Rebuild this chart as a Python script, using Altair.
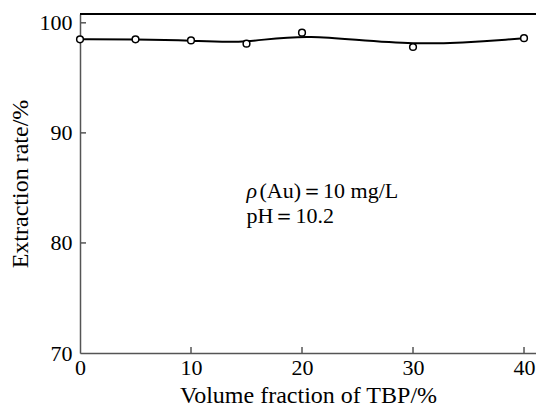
import altair as alt
import pandas as pd

tbp = [0, 5, 10, 15, 20, 30, 40]
rate = [98.5, 98.5, 98.4, 98.1, 99.1, 97.8, 98.6]
x_ticks = [0, 10, 20, 30, 40]
y_ticks = [70, 80, 90, 100]
ann_x = [15.0, 15.0]
ann_y = [84.1, 81.8]
rho_text = ["ρ"]
line1_text = ["(Au)＝10 mg/L"]
line2_text = ["pH＝10.2"]

XMAX = 41.08
YMIN, YMAX = 70, 100.8
W, H = 456, 339
AX = "#555555"
FONT = "Liberation Serif"
FS = 22

df = pd.DataFrame({"x": tbp, "y": rate})
xs = alt.Scale(domain=[0, XMAX], nice=False, zero=False)
ys = alt.Scale(domain=[YMIN, YMAX], nice=False, zero=False)

base = alt.Chart(df)

line = base.mark_line(color="black", strokeWidth=2, interpolate="basis").encode(
    x=alt.X("x:Q", scale=xs, axis=alt.Axis(
        values=x_ticks, title="Volume fraction of TBP/%", tickSize=0, labelPadding=4,
        domainColor=AX, domainWidth=1.5, labelFont=FONT, labelFontSize=FS,
        labelColor="black", titleFont=FONT, titleFontSize=24, titleFontWeight="normal",
        titleColor="black", titlePadding=5, grid=False, labelFlush=False)),
    y=alt.Y("y:Q", scale=ys, axis=alt.Axis(
        values=y_ticks, title="Extraction rate/%", tickSize=0, labelPadding=8,
        domainColor=AX, domainWidth=1.5, labelFont=FONT, labelFontSize=FS,
        labelColor="black", titleFont=FONT, titleFontSize=24, titleFontWeight="normal",
        titleColor="black", titlePadding=7, grid=False)),
)

pts = base.mark_point(shape="circle", filled=True, fill="white", stroke="black",
                      strokeWidth=1.5, size=45, opacity=1).encode(
    x=alt.X("x:Q", scale=xs), y=alt.Y("y:Q", scale=ys))

xt = alt.Chart(pd.DataFrame({"t": x_ticks[1:]})).mark_rule(color=AX, strokeWidth=1.5).encode(
    x=alt.X("t:Q", scale=xs), y=alt.value(H), y2=alt.value(H - 6))
yt = alt.Chart(pd.DataFrame({"t": y_ticks[1:]})).mark_rule(color=AX, strokeWidth=1.5).encode(
    y=alt.Y("t:Q", scale=ys), x=alt.value(0), x2=alt.value(6))

top = alt.Chart(pd.DataFrame({"a": [0]})).mark_rule(color="black", strokeWidth=2).encode(
    x=alt.value(0), x2=alt.value(W), y=alt.value(0))

def txt(xv, yv, t, dx=0, style="normal"):
    return alt.Chart(pd.DataFrame({"x": [xv], "y": [yv], "t": t})).mark_text(
        align="left", baseline="alphabetic", font=FONT, fontSize=FS, color="black",
        dx=dx, fontStyle=style).encode(
        x=alt.X("x:Q", scale=xs), y=alt.Y("y:Q", scale=ys), text="t:N")

ann_rho = txt(ann_x[0], ann_y[0], rho_text, style="italic")
ann1 = txt(ann_x[0], ann_y[0], line1_text, dx=13)
ann2 = txt(ann_x[1], ann_y[1], line2_text)

chart = alt.layer(line, pts, xt, yt, top, ann_rho, ann1, ann2).properties(
    width=W, height=H, autosize=alt.AutoSizeParams(type="none"),
    padding={"left": 72, "top": 6, "right": 0, "bottom": 58},
).configure_view(stroke=None).configure(background="white")

chart.save("out.html", embed_options={"renderer": "svg", "actions": False})
